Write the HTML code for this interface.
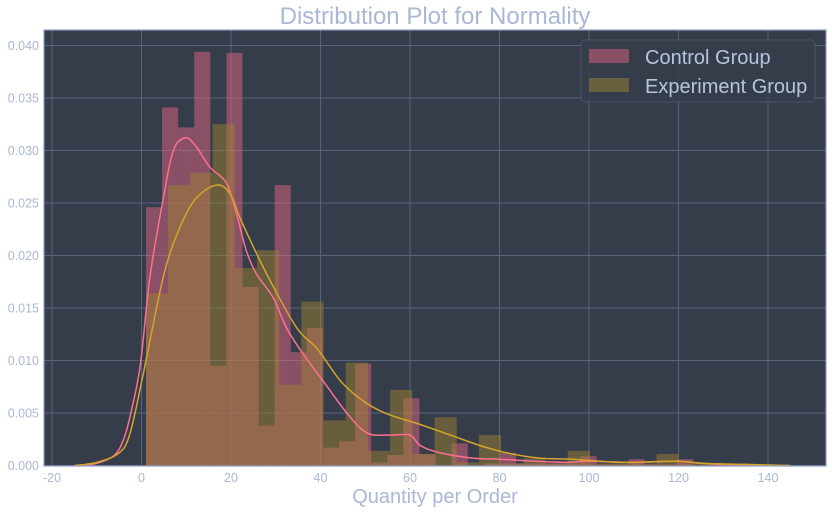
<!DOCTYPE html>
<html><head><meta charset="utf-8"><style>
body{margin:0;background:#fff;width:832px;height:513px;overflow:hidden}
svg text{font-family:"Liberation Sans",sans-serif}
</style></head><body>
<svg id="chart" width="832" height="513" xmlns="http://www.w3.org/2000/svg"></svg>
<script>
const xTicks=[-20,0,20,40,60,80,100,120,140];
const yTicks=[0,0.005,0.010,0.015,0.020,0.025,0.030,0.035,0.040];
const yTickLabels=["0.000","0.005","0.010","0.015","0.020","0.025","0.030","0.035","0.040"];
const controlBinStart=1, controlBinWidth=3.595;
const controlDensity=[0.0246,0.0341,0.0322,0.0394,0.0095,0.0393,0.017,0.0038,0.0267,0.0108,0.0131,0.0017,0.0023,0.0097,0.0003,0.001,0.0064,0.0011,0,0.0021,0,0.0002,0.0012,0.0002,0.0002,0.0002,0.0002,0.0009,0.0001,0.0001,0.0006,0.0001,0.0001,0.0006,0,0,0,0.0001];
const expBinStart=1, expBinWidth=4.96;
const expDensity=[0.0164,0.0267,0.0279,0.0325,0.0188,0.0205,0.0077,0.0156,0.0043,0.0098,0.0014,0.0072,0.0011,0.0046,0.0003,0.0029,0.0002,0.0007,0.0002,0.0014,0.0002,0.0002,0.0002,0.0011,0.0002,0.0002,0.0002];
const controlKdeX=[-15,-10,-6,-4,-2.6,-0.3,1.9,4.9,7.1,9.7,12,15.3,19,21.2,23.4,25.6,29.4,32.4,36,41,45.9,50.4,55.6,60,62.3,66.8,74,80,88,95,100,110,120,125,130,140];
const controlKdeY=[0,0.0002,0.001,0.0025,0.0046,0.0095,0.018,0.0255,0.030,0.0312,0.0305,0.0284,0.0269,0.024,0.0205,0.0183,0.016,0.0131,0.0107,0.0078,0.005,0.0031,0.0029,0.0029,0.0019,0.0012,0.0007,0.0006,0.0004,0.0003,0.0004,0.0003,0.0004,0.0002,0.0001,0];
const expKdeX=[-15,-10,-5,-2.6,0.3,4.9,8.6,12.3,16.8,19.8,22,25.7,29.5,34.7,39.1,42,45,50.4,55.6,61.6,69,75.7,81.7,89,96.5,107,119,126,135,145];
const expKdeY=[0,0.0003,0.0012,0.003,0.0085,0.018,0.0227,0.0255,0.0267,0.0259,0.0236,0.0202,0.017,0.0131,0.0112,0.0095,0.0078,0.0059,0.0048,0.004,0.0029,0.0019,0.0012,0.0007,0.0006,0.0003,0.0004,0.0002,0.0001,0];

const L=44,R=826,T=30,B=466;
const xs=v=>141.5+v*4.475;
const ys=v=>465.5-v*10500;
const NS="http://www.w3.org/2000/svg";
const svg=document.getElementById('chart');
function mk(tag,attrs,parent){const e=document.createElementNS(NS,tag);for(const k in attrs)e.setAttribute(k,attrs[k]);(parent||svg).appendChild(e);return e;}

const bg=mk('rect',{x:L,y:T,width:R-L,height:B-T,fill:'#353c4a'});


const grid=mk('g',{stroke:'#56637a','stroke-width':1});


xTicks.forEach(t=>{mk('line',{x1:xs(t),x2:xs(t),y1:T,y2:B},grid);});
yTicks.forEach(t=>{mk('line',{x1:L,x2:R,y1:ys(t),y2:ys(t)},grid);});

const cg=mk('g',{fill:'#df6482','fill-opacity':0.5});


controlDensity.forEach((d,i)=>{if(!d)return;const x0=xs(controlBinStart+i*controlBinWidth),x1=xs(controlBinStart+(i+1)*controlBinWidth);
const r=mk('rect',{x:x0,y:ys(d),width:x1-x0,height:ys(0)-ys(d)},cg);

});
const eg=mk('g',{fill:'#9b8032','fill-opacity':0.5});


expDensity.forEach((d,i)=>{if(!d)return;const x0=xs(expBinStart+i*expBinWidth),x1=xs(expBinStart+(i+1)*expBinWidth);
const r=mk('rect',{x:x0,y:ys(d),width:x1-x0,height:ys(0)-ys(d)},eg);

});

function line(X,Y,color,name){
const P=X.map((x,i)=>[xs(x),ys(Y[i])]);
let d='M'+P[0][0].toFixed(1)+','+P[0][1].toFixed(1);
for(let i=0;i<P.length-1;i++){const p0=P[i-1]||P[i],p1=P[i],p2=P[i+1],p3=P[i+2]||P[i+1];
const c1=[p1[0]+(p2[0]-p0[0])/6,p1[1]+(p2[1]-p0[1])/6],c2=[p2[0]-(p3[0]-p1[0])/6,p2[1]-(p3[1]-p1[1])/6];
d+='C'+c1[0].toFixed(1)+','+c1[1].toFixed(1)+' '+c2[0].toFixed(1)+','+c2[1].toFixed(1)+' '+p2[0].toFixed(1)+','+p2[1].toFixed(1);}
const p=mk('path',{d:d,fill:'none',stroke:color,'stroke-width':1.5,'stroke-linejoin':'round'});

}
line(controlKdeX,controlKdeY,'#ff6f8f','control-kde-line');
line(expKdeX,expKdeY,'#d4a52a','experiment-kde-line');

const frame=mk('rect',{x:L,y:T,width:R-L,height:B-T,fill:'none',stroke:'#8a9cc0','stroke-width':1.2});



xTicks.forEach(t=>{const e=mk('text',{x:xs(t),y:482,'font-size':12.5,fill:'#aab7d5','text-anchor':'middle'});e.textContent=t;

});
yTicks.forEach((t,i)=>{const e=mk('text',{x:39,y:ys(t)+4.5,'font-size':12.5,fill:'#aab7d5','text-anchor':'end'});e.textContent=yTickLabels[i];

});
</script>
<svg style="position:absolute;left:0;top:0" width="832" height="513" xmlns="http://www.w3.org/2000/svg">
<text x="435" y="24" font-size="24" fill="#aab7d5" text-anchor="middle" font-family="Liberation Sans, sans-serif">Distribution Plot for Normality</text>
<text x="435" y="503" font-size="20" fill="#aab7d5" text-anchor="middle" font-family="Liberation Sans, sans-serif">Quantity per Order</text>
<g>
<rect x="581" y="40" width="234" height="62" rx="4" fill="#353c4a" fill-opacity="0.85" stroke="#4a5568"/>
<rect x="589" y="49" width="40" height="14" fill="#8a5066"/>
<rect x="589" y="78" width="40" height="14" fill="#68603e"/>
<text x="645" y="64" font-size="20" fill="#b8c4de" font-family="Liberation Sans, sans-serif">Control Group</text>
<text x="645" y="93" font-size="20" fill="#b8c4de" font-family="Liberation Sans, sans-serif">Experiment Group</text>
</g>
</svg>
</body></html>
